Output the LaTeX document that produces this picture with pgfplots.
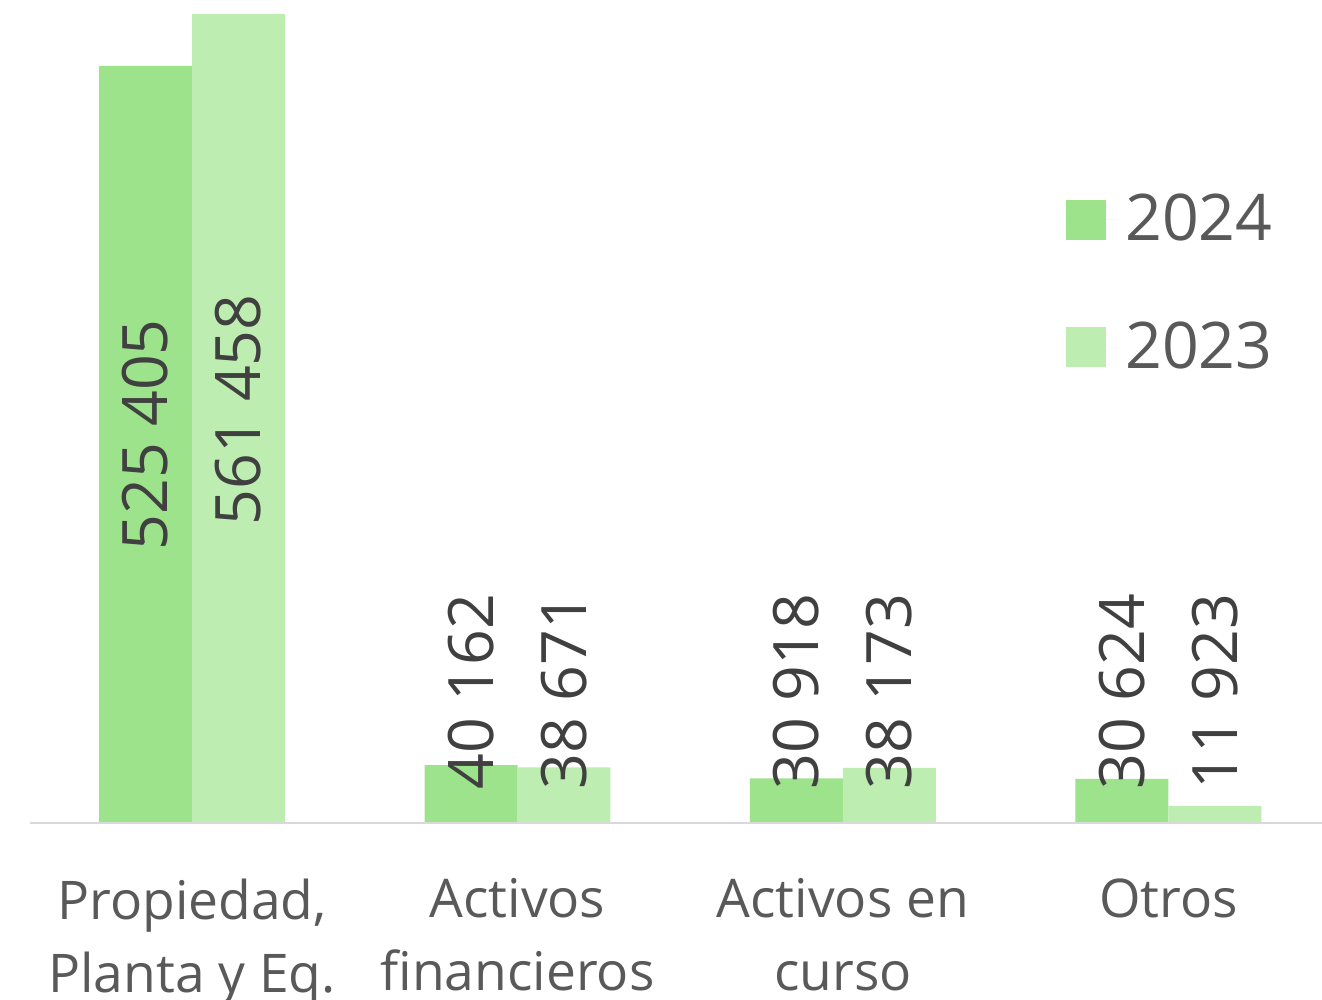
\documentclass[border=0pt]{standalone}
\usepackage{pgfplots}
\pgfplotsset{compat=1.18}
\usepackage{fontspec}
\setmainfont{Open Sans}
\usetikzlibrary{calc}
\definecolor{g24}{HTML}{9DE38B}
\definecolor{g23}{HTML}{BDEDB1}
\definecolor{lbl}{HTML}{404040}
\definecolor{cat}{HTML}{595959}
\definecolor{base}{HTML}{D9D9D9}
\begin{document}
\begin{tikzpicture}
\begin{axis}[name=ax,
  scale only axis, width=387.6pt, height=246.9pt,
  ybar=0pt, bar width=0.2857,
  xmin=-0.498, xmax=3.472, ymin=0, ymax=571160,
  axis x line=bottom, axis y line=none,
  x axis line style={draw=none},
  major tick length=0pt,
  xtick={0,1,2,3}, xticklabels={{Propiedad,\\Planta y Eq.},{Activos\\financieros},{Activos en\\curso},{Otros}},
  ytick=\empty,
  xticklabel style={font=\fontsize{16}{21.9}\selectfont, text=cat, align=center, anchor=north, inner sep=0pt, yshift=-16.5pt},
  legend style={draw=none, fill=none, at={(rel axis cs:0.801,0.7734)}, anchor=north west,
    font=\fontsize{19.3}{19.3}\selectfont, text=cat, row sep=18.8pt, inner sep=0pt,
    cells={anchor=west}},
  legend image code/.code={\fill[#1] (0pt,-6pt) rectangle (12pt,6pt); \path (0pt,0pt) -- (15.9pt,0pt);},
  legend cell align=left,
]
\addplot[fill=g24, draw=none] coordinates {(0,525405) (1,40162) (2,30918) (3,30624)};
\addplot[fill=g23, draw=none] coordinates {(0,561458) (1,38671) (2,38173) (3,11923)};
\legend{2024,2023}
% data labels
\addplot[draw=none, mark=none, forget plot, nodes near coords, point meta=explicit symbolic,
  every node near coord/.style={rotate=90, anchor=center, inner sep=0pt, text=lbl, font=\fontsize{18.8}{18.8}\selectfont}]
  coordinates {(-0.143,269300)[525 405] (0.143,286600)[561 458]};
\addplot[draw=none, mark=none, forget plot, nodes near coords, point meta=explicit symbolic,
  every node near coord/.style={rotate=90, anchor=west, inner sep=0pt, text=lbl, font=\fontsize{18.8}{18.8}\selectfont}]
  coordinates {(0.857,22900)[40 162] (1.143,22900)[38 671] (1.857,22900)[30 918] (2.143,22900)[38 173] (2.857,22900)[30 624] (3.143,22900)[11 923]};
\draw[base, line width=0.6pt] (rel axis cs:0,0) -- (rel axis cs:1,0);
\end{axis}
\pgfresetboundingbox
\path[use as bounding box] ($(ax.south west)+(-9pt,-53.1pt)$) rectangle (ax.north east);
\end{tikzpicture}
\end{document}
